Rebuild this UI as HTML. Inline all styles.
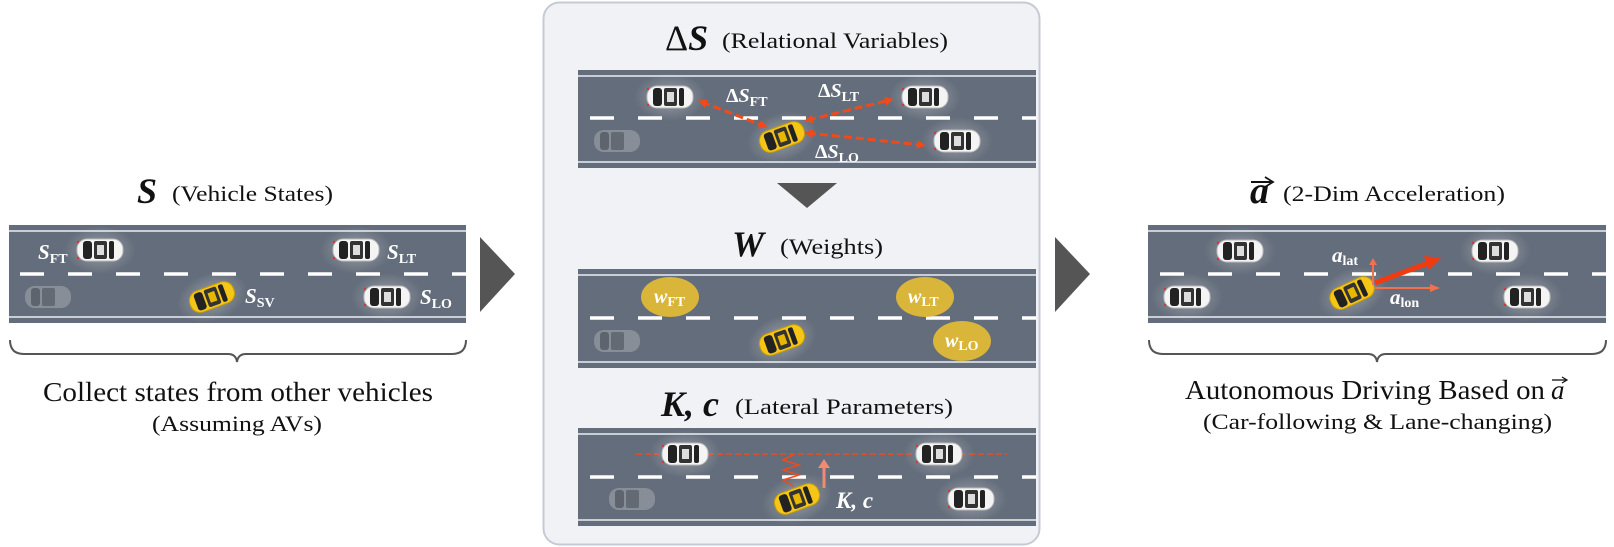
<!DOCTYPE html>
<html><head><meta charset="utf-8"><style>
html,body{margin:0;padding:0;background:#fff;}
svg{display:block;}
.t{font-family:"Liberation Serif",serif;fill:#111;}
.m{font-family:"Liberation Serif",serif;font-style:italic;font-weight:bold;fill:#111;}
.w{fill:#fff;font-family:"Liberation Serif",serif;font-style:italic;font-weight:bold;}
.ws{fill:#fff;font-family:"Liberation Serif",serif;font-weight:bold;font-style:normal;}
</style></head><body>
<svg width="1614" height="547" viewBox="0 0 1614 547" xmlns="http://www.w3.org/2000/svg">
<defs>
<radialGradient id="glow"><stop offset="0" stop-color="#ffffff" stop-opacity="0.35"/><stop offset="1" stop-color="#ffffff" stop-opacity="0"/></radialGradient>
<g id="car">
<ellipse cx="0" cy="0" rx="36" ry="24" fill="url(#glow)"/>
<rect x="-23" y="-11" width="46" height="22" rx="10" fill="#f4f4f4" stroke="#bbb" stroke-width="1"/>
<rect x="-17" y="-9" width="9" height="18" rx="3" fill="#222"/>
<rect x="-6" y="-9" width="13" height="18" rx="2" fill="#333"/>
<rect x="-3" y="-5" width="7" height="10" fill="#ddd"/>
<rect x="9" y="-9" width="5" height="18" rx="2" fill="#222"/>
<circle cx="-22" cy="-8" r="1.2" fill="#d33"/><circle cx="-22" cy="8" r="1.2" fill="#d33"/>
</g>
<g id="ycar">
<ellipse cx="0" cy="0" rx="36" ry="24" fill="url(#glow)"/>
<rect x="-23" y="-11" width="46" height="22" rx="10" fill="#f5c518" stroke="#c9a000" stroke-width="1"/>
<rect x="-17" y="-9" width="9" height="18" rx="3" fill="#222"/>
<rect x="-6" y="-9" width="13" height="18" rx="2" fill="#333"/>
<rect x="-3" y="-5" width="7" height="10" fill="#e8b800"/>
<rect x="9" y="-9" width="5" height="18" rx="2" fill="#222"/>
</g>
<g id="gcar" opacity="0.35">
<rect x="-23" y="-11" width="46" height="22" rx="10" fill="#ccc"/>
<rect x="-17" y="-9" width="9" height="18" rx="3" fill="#555"/>
<rect x="-6" y="-9" width="13" height="18" rx="2" fill="#666"/>
</g>
<marker id="ar" markerWidth="9" markerHeight="9" refX="5" refY="4.5" orient="auto-start-reverse" markerUnits="userSpaceOnUse"><path d="M0,0 L9,4.5 L0,9z" fill="#f04a1a"/></marker>
</defs>

<rect x="543.5" y="2.5" width="496" height="542" rx="16" fill="#f1f2f6" stroke="#c5cad4" stroke-width="2"/>

<g>
<rect x="9" y="225" width="457" height="98" fill="#646d7b"/>
<line x1="9" y1="231" x2="466" y2="231" stroke="#c9ced6" stroke-width="2"/>
<line x1="9" y1="317" x2="466" y2="317" stroke="#c9ced6" stroke-width="2"/>
<line x1="20" y1="274" x2="466" y2="274" stroke="#fff" stroke-width="3.5" stroke-dasharray="24,24"/>
</g>
<g>
<rect x="578" y="70" width="458" height="98" fill="#646d7b"/>
<line x1="578" y1="76" x2="1036" y2="76" stroke="#c9ced6" stroke-width="2"/>
<line x1="578" y1="162" x2="1036" y2="162" stroke="#c9ced6" stroke-width="2"/>
<line x1="590" y1="118" x2="1036" y2="118" stroke="#fff" stroke-width="3.5" stroke-dasharray="24,24"/>
</g>
<g>
<rect x="578" y="269" width="458" height="99" fill="#646d7b"/>
<line x1="578" y1="275" x2="1036" y2="275" stroke="#c9ced6" stroke-width="2"/>
<line x1="578" y1="362" x2="1036" y2="362" stroke="#c9ced6" stroke-width="2"/>
<line x1="590" y1="318" x2="1036" y2="318" stroke="#fff" stroke-width="3.5" stroke-dasharray="24,24"/>
</g>
<g>
<rect x="578" y="428" width="458" height="98" fill="#646d7b"/>
<line x1="578" y1="434" x2="1036" y2="434" stroke="#c9ced6" stroke-width="2"/>
<line x1="578" y1="520" x2="1036" y2="520" stroke="#c9ced6" stroke-width="2"/>
<line x1="590" y1="477" x2="1036" y2="477" stroke="#fff" stroke-width="3.5" stroke-dasharray="24,24"/>
</g>
<g>
<rect x="1148" y="225" width="458" height="98" fill="#646d7b"/>
<line x1="1148" y1="231" x2="1606" y2="231" stroke="#c9ced6" stroke-width="2"/>
<line x1="1148" y1="317" x2="1606" y2="317" stroke="#c9ced6" stroke-width="2"/>
<line x1="1160" y1="274" x2="1606" y2="274" stroke="#fff" stroke-width="3.5" stroke-dasharray="24,24"/>
</g>

<path d="M480,237 L515,274 L480,312z" fill="#555"/>
<path d="M1055,237 L1090,274 L1055,312z" fill="#555"/>
<path d="M777,183 L837,183 L807,208z" fill="#555"/>

<!-- Left -->
<text x="137" y="203" class="m" font-size="36">S</text>
<text x="172" y="201" class="t" font-size="22" textLength="161" lengthAdjust="spacingAndGlyphs">(Vehicle States)</text>
<use href="#car" x="100" y="250"/>
<use href="#car" x="356" y="250"/>
<use href="#car" x="387" y="297"/>
<use href="#gcar" x="48" y="297"/>
<use href="#ycar" transform="translate(212,297) rotate(-20)"/>
<text x="38" y="259" class="w" font-size="21">S<tspan class="ws" font-size="14" dy="4">FT</tspan></text>
<text x="387" y="259" class="w" font-size="21">S<tspan class="ws" font-size="14" dy="4">LT</tspan></text>
<text x="245" y="303" class="w" font-size="21">S<tspan class="ws" font-size="14" dy="4">SV</tspan></text>
<text x="420" y="304" class="w" font-size="21">S<tspan class="ws" font-size="14" dy="4">LO</tspan></text>
<path d="M10,340 Q10,354 24,354 L228,354 Q236,354 237,362 Q238,354 246,354 L452,354 Q466,354 466,340" fill="none" stroke="#555" stroke-width="2"/>
<text x="43" y="401" class="t" font-size="27" textLength="390" lengthAdjust="spacingAndGlyphs">Collect states from other vehicles</text>
<text x="152" y="431" class="t" font-size="22" textLength="170" lengthAdjust="spacingAndGlyphs">(Assuming AVs)</text>

<!-- Middle 1 -->
<text x="665" y="50" class="t" font-size="36">Δ<tspan class="m">S</tspan></text>
<text x="722" y="48" class="t" font-size="22" textLength="226" lengthAdjust="spacingAndGlyphs">(Relational Variables)</text>
<use href="#car" x="670" y="97"/>
<use href="#car" x="925" y="97"/>
<use href="#car" x="957" y="141"/>
<use href="#gcar" x="617" y="141"/>
<use href="#ycar" transform="translate(782,137) rotate(-20)"/>
<line x1="702" y1="102" x2="764" y2="126" stroke="#f04a1a" stroke-width="3" stroke-dasharray="8,4" marker-start="url(#ar)" marker-end="url(#ar)"/>
<line x1="808" y1="120" x2="890" y2="100" stroke="#f04a1a" stroke-width="3" stroke-dasharray="8,4" marker-start="url(#ar)" marker-end="url(#ar)"/>
<line x1="808" y1="133" x2="922" y2="145" stroke="#f04a1a" stroke-width="3" stroke-dasharray="8,4" marker-start="url(#ar)" marker-end="url(#ar)"/>
<text x="726" y="102" class="ws" font-size="20">Δ<tspan class="w">S</tspan><tspan font-size="14" dy="4">FT</tspan></text>
<text x="818" y="97" class="ws" font-size="20">Δ<tspan class="w">S</tspan><tspan font-size="14" dy="4">LT</tspan></text>
<text x="815" y="158" class="ws" font-size="20">Δ<tspan class="w">S</tspan><tspan font-size="14" dy="4">LO</tspan></text>

<!-- Middle 2 -->
<text x="732" y="256" class="m" font-size="36">W</text>
<text x="780" y="254" class="t" font-size="22" textLength="103" lengthAdjust="spacingAndGlyphs">(Weights)</text>
<use href="#gcar" x="617" y="341"/>
<use href="#ycar" transform="translate(782,340) rotate(-20)"/>
<ellipse cx="670" cy="297" rx="29" ry="20" fill="#d9b53a"/>
<ellipse cx="925" cy="297" rx="29" ry="20" fill="#d9b53a"/>
<ellipse cx="962" cy="341" rx="29" ry="20" fill="#d9b53a"/>
<text x="654" y="303" class="w" font-size="20">w<tspan class="ws" font-size="14" dy="3">FT</tspan></text>
<text x="908" y="303" class="w" font-size="20">w<tspan class="ws" font-size="14" dy="3">LT</tspan></text>
<text x="945" y="347" class="w" font-size="20">w<tspan class="ws" font-size="14" dy="3">LO</tspan></text>

<!-- Middle 3 -->
<text x="661" y="416" class="m" font-size="36">K, c</text>
<text x="735" y="414" class="t" font-size="22" textLength="218" lengthAdjust="spacingAndGlyphs">(Lateral Parameters)</text>
<line x1="636" y1="454" x2="1007" y2="454" stroke="#f04a1a" stroke-width="1.5" stroke-dasharray="6,3"/>
<use href="#car" x="685" y="454"/>
<use href="#car" x="939" y="454"/>
<use href="#car" x="971" y="499"/>
<use href="#gcar" x="632" y="499"/>
<use href="#ycar" transform="translate(797,499) rotate(-20)"/>
<path d="M793,455 L783,460 L799,465 L783,470 L799,475 L783,480 L793,486" fill="none" stroke="#f04a1a" stroke-width="1.5"/>
<line x1="824" y1="488" x2="824" y2="466" stroke="#f08a70" stroke-width="3"/>
<path d="M818,468 L824,459 L830,468z" fill="#f08a70"/>
<text x="836" y="508" class="w" font-size="23">K, c</text>

<!-- Right -->
<text x="1250" y="203" class="m" font-size="38">a</text>
<line x1="1251" y1="182" x2="1271" y2="182" stroke="#111" stroke-width="2"/>
<path d="M1265,177 L1273,182 L1265,187" fill="none" stroke="#111" stroke-width="1.8"/>
<text x="1283" y="201" class="t" font-size="22" textLength="222" lengthAdjust="spacingAndGlyphs">(2-Dim Acceleration)</text>
<use href="#car" x="1240" y="251"/>
<use href="#car" x="1495" y="251"/>
<use href="#car" x="1187" y="297"/>
<use href="#car" x="1527" y="297"/>
<use href="#ycar" transform="translate(1352,293) rotate(-25)"/>
<line x1="1373" y1="285" x2="1373" y2="263" stroke="#f07050" stroke-width="2"/>
<path d="M1369,265 L1373,258 L1377,265z" fill="#f07050"/>
<line x1="1375" y1="288" x2="1432" y2="288" stroke="#f07050" stroke-width="2"/>
<path d="M1430,284 L1440,288 L1430,292z" fill="#f07050"/>
<line x1="1375" y1="283" x2="1428" y2="263" stroke="#f03a10" stroke-width="5"/>
<path d="M1424,256 L1441,258 L1429,270z" fill="#f03a10"/>
<text x="1332" y="262" class="w" font-size="21">a<tspan class="ws" font-size="14" dy="3">lat</tspan></text>
<text x="1390" y="304" class="w" font-size="21">a<tspan class="ws" font-size="14" dy="3">lon</tspan></text>
<path d="M1149,340 Q1149,354 1163,354 L1368,354 Q1376,354 1377,362 Q1378,354 1386,354 L1592,354 Q1606,354 1606,340" fill="none" stroke="#555" stroke-width="2"/>
<text x="1185" y="399" class="t" font-size="27" textLength="360" lengthAdjust="spacingAndGlyphs">Autonomous Driving Based on</text>
<text x="1551" y="399" class="t" font-size="27" font-style="italic">a</text>
<line x1="1552" y1="380" x2="1566" y2="380" stroke="#111" stroke-width="1.3"/>
<path d="M1562,377 L1567,380 L1562,383" fill="none" stroke="#111" stroke-width="1.2"/>
<text x="1203" y="429" class="t" font-size="22" textLength="349" lengthAdjust="spacingAndGlyphs">(Car-following &amp; Lane-changing)</text>
</svg>
</body></html>
